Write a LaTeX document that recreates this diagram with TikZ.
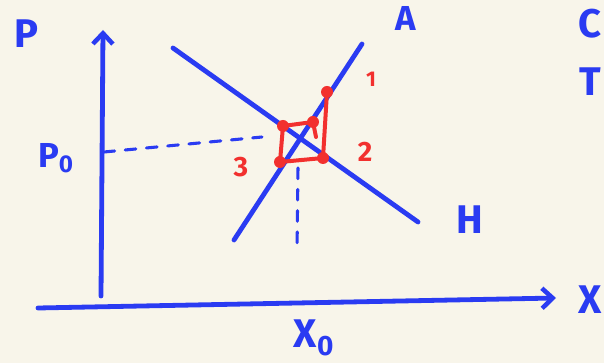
\documentclass[tikz,border=0pt]{standalone}
\usepackage{fontspec}
\setmainfont{Fira Sans}
\usetikzlibrary{arrows.meta,positioning}
\definecolor{Paper}{HTML}{F8F5EA}
\definecolor{Ink}{HTML}{2A3BF2}
\definecolor{Mark}{HTML}{F2302E}
\tikzset{
  curve/.style={draw=Ink,line width=3.6pt,line cap=round},
  axis/.style={curve,-{Straight Barb[length=8pt,width=15pt,line width=3.4pt]}},
  guide/.style={draw=Ink,line width=2.3pt,line cap=round,dash pattern=on 8pt off 8pt},
  lab/.style={text=Ink,font=\fontsize{30}{30}\selectfont\bfseries,inner sep=0pt},
  numlab/.style={text=Mark,font=\fontsize{21}{21}\selectfont\bfseries,inner sep=0pt},
  web/.style={draw=Mark,line width=3pt,line join=round,line cap=round},
  dot/.style={circle,fill=Mark,inner sep=0pt,minimum size=9pt}
}
\begin{document}
\begin{tikzpicture}[x=0.75pt,y=-0.75pt]
  \fill[Paper] (0,0) rectangle (604,363);
  \useasboundingbox (0,0) rectangle (604,363);
  % axes
  \coordinate (o) at (101,296);
  \coordinate (ytop) at (103,30);
  \coordinate (xleft) at (38,308);
  \coordinate (xright) at (556,298);
  \draw[axis] (o) -- (ytop);
  \draw[axis] (xleft) -- (xright);
  \node[lab] (p) at (27,34) {P};
  \node[lab] (x) at (590,300) {X};
  \node[lab] (c) at (590,24) {C};
  \node[lab] (t) at (590,82) {T};
  % the two lines
  \coordinate (a0) at (234,240);
  \coordinate (a1) at (362,44);
  \coordinate (h0) at (173,48);
  \coordinate (h1) at (418,222);
  \draw[curve] (a0) -- (a1);
  \draw[curve] (h0) -- (h1);
  \node[lab,font=\fontsize{26}{26}\selectfont\bfseries] (la) at (406,18) {A};
  \node[lab] (lh) at (470,220) {H};
  % equilibrium guides
  \coordinate (p0) at (104,152);
  \coordinate (pe) at (262,137);
  \coordinate (xe) at (298,168);
  \coordinate (x0) at (297,252);
  \draw[guide] (p0) -- (pe);
  \draw[guide] (xe) -- (x0);
  \node[lab,font=\fontsize{26}{26}\selectfont\bfseries] (lp0) at (56,158) {P\textsubscript{0}};
  \node[lab] (lx0) at (314,338) {X\textsubscript{0}};
  % cobweb steps
  \node[dot] (s1) at (327,92) {};
  \node[dot] (s2) at (323,158) {};
  \node[dot] (s3) at (280,162) {};
  \node[dot] (s4) at (283,126) {};
  \node[dot] (s5) at (313,122) {};
  \draw[web] (s1.center) -- (s2.center) -- (s3.center) -- (s4.center) -- (s5.center) -- ++(3,15);
  \node[numlab,font=\fontsize{16}{16}\selectfont\bfseries] (n1) at (371,79) {1};
  \node[numlab] (n2) at (365,152) {2};
  \node[numlab] (n3) at (241,167) {3};
\end{tikzpicture}
\end{document}
